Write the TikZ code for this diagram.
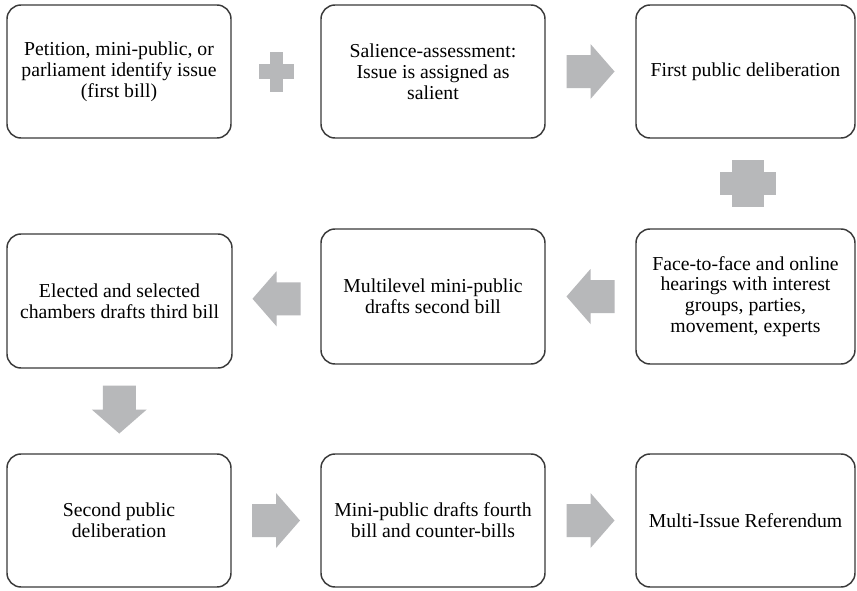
\documentclass[tikz,border=0pt]{standalone}
\usepackage{fontspec}
\setmainfont{Liberation Serif}
\usetikzlibrary{calc}
\definecolor{blockgray}{HTML}{B7B8BA}
\definecolor{edgegray}{HTML}{3A3A3A}

\begin{document}
\begin{tikzpicture}[x=0.75pt,y=-0.75pt,
  stage/.style={draw=edgegray, line width=1.1pt, rounded corners=10.5pt,
    fill=white, align=center, inner sep=0pt,
    font=\fontsize{14.8}{15.6}\selectfont},
  wide/.style={minimum width=168pt},
  narrow/.style={minimum width=164.25pt},
  tall/.style={minimum height=99.75pt},
  taller/.style={minimum height=101.25pt},
  flowarrow/.pic={\fill[blockgray] (-24,-16.5) -- (0,-16.5) -- (0,-27.5)
    -- (24,0) -- (0,27.5) -- (0,16.5) -- (-24,16.5) -- cycle;},
  smallplus/.pic={\fill[blockgray] (-17.5,-7.5) rectangle (17.5,7.5);
    \fill[blockgray] (-6.5,-20) rectangle (6.5,20);},
  bigplus/.pic={\fill[blockgray] (-28,-11.5) rectangle (28,11.5);
    \fill[blockgray] (-16,-23.5) rectangle (16,23.5);},
]
\fill[white] (0,0) rectangle (857,590);
\useasboundingbox (0,0) rectangle (857,590);

% first row
\node[stage, wide, tall] (b1) at (119,71.5)
  {Petition, mini-public, or\\parliament identify issue\\(first bill)};
\node[stage, wide, tall] (b2) at (433,71.5)
  {Salience-assessment:\\Issue is assigned as\\salient};
\node[stage, narrow, tall] (b3) at (745.5,71.5)
  {First public deliberation};

% second row
\node[stage, minimum width=168.75pt, minimum height=100.5pt] (b4) at (119.5,301)
  {Elected and selected\\chambers drafts third bill};
\node[stage, wide, taller] (b5) at (433,296.5)
  {Multilevel mini-public\\drafts second bill};
\node[stage, narrow, taller] (b6) at (745.5,296.5)
  {Face-to-face and online\\hearings with interest\\groups, parties,\\movement, experts};

% third row
\node[stage, wide, tall] (b7) at (119,520.5)
  {Second public\\deliberation};
\node[stage, wide, tall] (b8) at (433,520.5)
  {Mini-public drafts fourth\\bill and counter-bills};
\node[stage, narrow, tall] (b9) at (745.5,520.5)
  {Multi-Issue Referendum};

% block arrows and plus signs between the stages
\pic at ($(b1.east)!0.5!(b2.west)$) {smallplus};
\pic at ($(b2.east)!0.5!(b3.west)$) {flowarrow};
\pic at ($(b3.south)!0.5!(b6.north)+(2,0)$) {bigplus};
\pic[rotate=180] at ($(b6.west)!0.5!(b5.east)$) {flowarrow};
\pic[rotate=180] at ($(b5.west)!0.5!(b4.east)$) {flowarrow};
\pic[rotate=-90] at ($(b4.south)!0.5!(b7.north)+(0,-1.5)$) {flowarrow};
\pic at ($(b7.east)!0.5!(b8.west)$) {flowarrow};
\pic at ($(b8.east)!0.5!(b9.west)$) {flowarrow};
\end{tikzpicture}
\end{document}
